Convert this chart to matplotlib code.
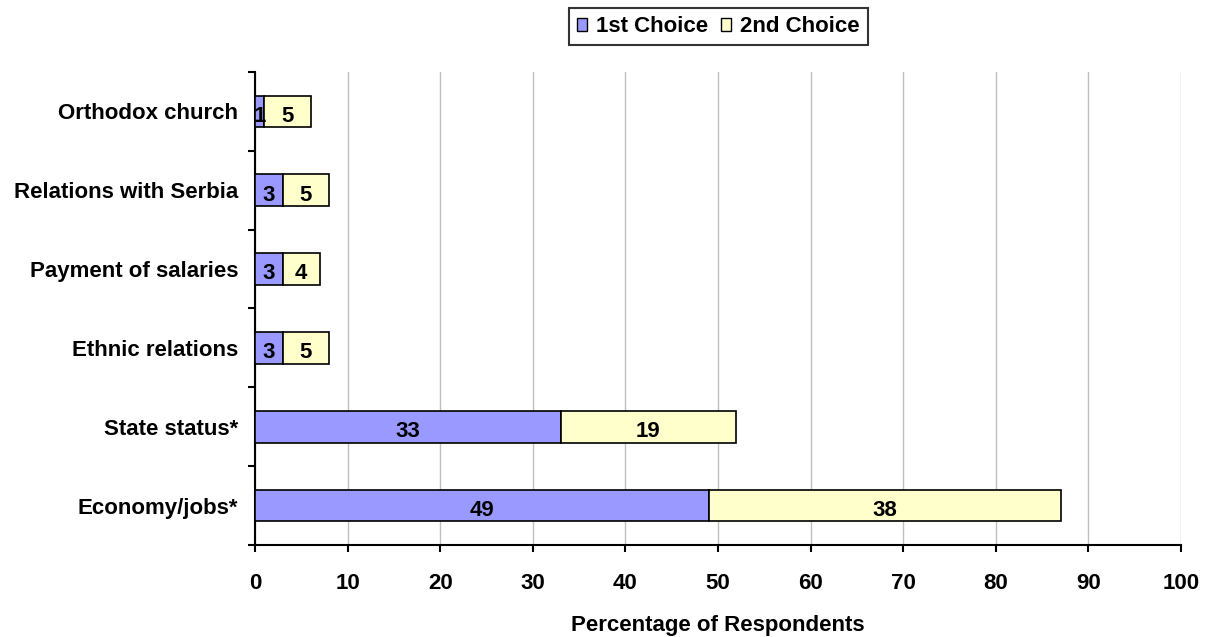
import numpy as np
import matplotlib.pyplot as plt
from matplotlib.patches import Patch

# data
categories = ['Economy/jobs*', 'State status*', 'Ethnic relations',
              'Payment of salaries', 'Relations with Serbia', 'Orthodox church']
first = [49, 33, 3, 3, 3, 1]
second = [38, 19, 5, 4, 5, 5]

plt.rcParams['font.family'] = ['Liberation Sans', 'DejaVu Sans']
plt.rcParams['font.weight'] = 'bold'
plt.rcParams['font.size'] = 16

fig = plt.figure(figsize=(12.05, 6.37), dpi=100)
ax = fig.add_axes([0.2116, 0.1444, 0.7684, 0.7426])

y = np.arange(len(categories))
c1 = '#9999FF'
c2 = '#FFFFCC'
ax.barh(y, first, height=0.4, color=c1, edgecolor='black', linewidth=1.2, zorder=3)
ax.barh(y, second, left=first, height=0.4, color=c2, edgecolor='black', linewidth=1.2, zorder=3)

# value labels, a bit below the middle like the original
for i in range(len(categories)):
  ax.annotate(str(first[i]), (first[i] / 2, y[i]), xytext=(0, -3.5),
              textcoords='offset points', ha='center', va='center',
              fontweight='bold', fontsize=16, zorder=4)
  ax.annotate(str(second[i]), (first[i] + second[i] / 2, y[i]), xytext=(0, -3.5),
              textcoords='offset points', ha='center', va='center',
              fontweight='bold', fontsize=16, zorder=4)

# axes
ax.set_xlim(0, 100)
ax.set_ylim(-0.5, len(categories) - 0.5)
ax.set_xticks(np.arange(0, 101, 10))
ax.set_yticks(y)
ax.set_yticklabels(categories, fontweight='bold')
ax.set_yticks(np.arange(-0.5, len(categories), 1), minor=True)
ax.tick_params(axis='y', which='major', length=0, pad=12)
ax.tick_params(axis='y', which='minor', length=5, width=1.5, direction='out')
ax.tick_params(axis='x', length=5, width=1.5, direction='out', pad=15)
for lbl in ax.get_xticklabels():
  lbl.set_fontweight('bold')
ax.xaxis.grid(True, color='#c0c0c0', linewidth=1, zorder=0)
ax.spines['top'].set_visible(False)
ax.spines['right'].set_visible(False)
ax.spines['left'].set_linewidth(1.5)
ax.spines['bottom'].set_linewidth(1.5)
ax.set_xlabel('Percentage of Respondents', fontweight='bold', labelpad=15)

# legend
handles = [Patch(facecolor=c1, edgecolor='black', label='1st Choice'),
           Patch(facecolor=c2, edgecolor='black', label='2nd Choice')]
leg = fig.legend(handles=handles, loc='center', bbox_to_anchor=(0.5963, 0.958), ncol=2,
                 frameon=True, fancybox=False, edgecolor='black', handlelength=0.45,
                 handleheight=0.55, handletextpad=0.4, columnspacing=0.6,
                 borderpad=0.35, borderaxespad=0, prop={'weight': 'bold', 'size': 16})
leg.get_frame().set_linewidth(1.5)

plt.savefig('out.png', dpi=100)
